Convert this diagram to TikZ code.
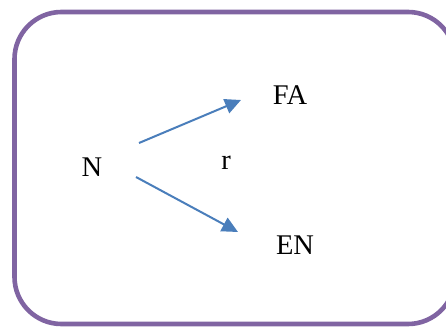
\documentclass[tikz,border=0pt]{standalone}
\usepackage{fontspec}
\setmainfont{Liberation Serif}
\usetikzlibrary{arrows.meta}
\definecolor{boxpurple}{HTML}{8064A2}
\definecolor{arrblue}{HTML}{4A7EBB}
\begin{document}
\begin{tikzpicture}[x=1pt,y=1pt,
  lbl/.style={font=\fontsize{28.5}{32}\selectfont, inner sep=0pt},
  conn/.style={draw=arrblue, line width=2pt, -{Triangle[length=16pt,width=15pt]}}]
\useasboundingbox (0,0) rectangle (446,327);
\begin{scope}
\clip (0,0) rectangle (446,327);
\draw[boxpurple, line width=4.6pt, rounded corners=47pt] (14.5,3) rectangle (455,315);
\end{scope}
\node[lbl] (N) at (92,160) {N};
\node[lbl] (r) at (226,164) {r};
\node[lbl] (FA) at (290,232) {FA};
\node[lbl] (EN) at (295,82) {EN};
\coordinate (a1) at (139,184);
\coordinate (a2) at (241,227);
\coordinate (b1) at (136,150);
\coordinate (b2) at (238,95);
\draw[conn] (a1) -- (a2);
\draw[conn] (b1) -- (b2);
\end{tikzpicture}
\end{document}
